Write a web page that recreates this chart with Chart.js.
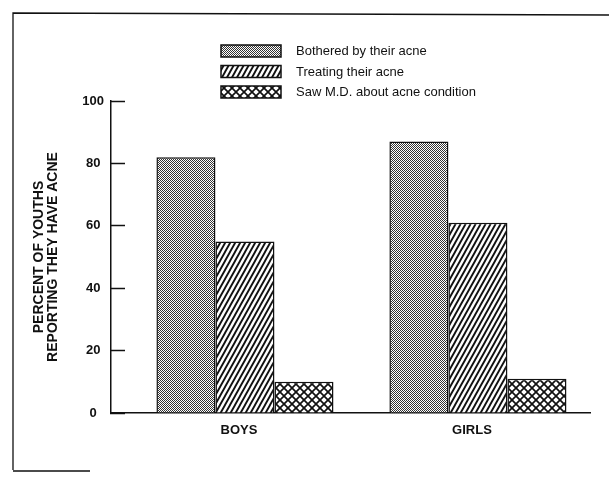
<!DOCTYPE html>
<html>
<head>
<meta charset="utf-8">
<script src="https://cdn.jsdelivr.net/npm/chart.js@4.4.1/dist/chart.umd.min.js"></script>
<style>
  html, body { margin: 0; padding: 0; background: #fff; }
</style>
</head>
<body>
<canvas id="chart" width="609" height="483"></canvas>
<script>
const categories = ['BOYS', 'GIRLS']
const seriesLabels = ['Bothered by their acne', 'Treating their acne', 'Saw M.D. about acne condition']
const bothered = [82, 87]
const treating = [55, 61]
const sawMD = [10, 11]
const yTicks = [0, 20, 40, 60, 80, 100]

const ink = '#111'
const family = '"Liberation Sans", Arial, Helvetica, sans-serif'
const canvas = document.getElementById('chart')
const ctx = canvas.getContext('2d')

// little tiles for the print-style fills
function makePattern(w, h, draw) {
  const c = document.createElement('canvas')
  c.width = w
  c.height = h
  const g = c.getContext('2d')
  g.fillStyle = '#fff'
  g.fillRect(0, 0, w, h)
  draw(g, w, h)
  return ctx.createPattern(c, 'repeat')
}

// fine checker, reads as a dotted grey
const stipple = makePattern(2, 2, (g) => {
  g.fillStyle = '#333'
  g.fillRect(0, 0, 1, 1)
  g.fillRect(1, 1, 1, 1)
})

const hatch = makePattern(5, 9, (g, w, h) => {
  g.strokeStyle = ink
  g.lineWidth = 1.9
  for (let k = -2; k <= 2; k++) {
    g.beginPath()
    g.moveTo(k * w - w, 2 * h)
    g.lineTo(k * w + 2 * w, -h)
    g.stroke()
  }
})

const crossHatch = makePattern(8, 8, (g, w, h) => {
  g.strokeStyle = ink
  g.lineWidth = 1.7
  for (let k = -2; k <= 2; k++) {
    g.beginPath()
    g.moveTo(k * w - w, -h)
    g.lineTo(k * w + 2 * w, 2 * h)
    g.moveTo(k * w - w, 2 * h)
    g.lineTo(k * w + 2 * w, -h)
    g.stroke()
  }
})

const xs = categories.map((c, i) => i + 1)
const toPoints = (vals) => vals.map((v, i) => ({ x: xs[i], y: v }))

// scanned frame: top edge, left edge, a stub at the bottom
const framePlugin = {
  id: 'frame',
  beforeDraw(chart) {
    const c = chart.ctx
    c.save()
    c.fillStyle = '#fff'
    c.fillRect(0, 0, chart.width, chart.height)
    c.strokeStyle = ink
    c.lineWidth = 1.3
    c.beginPath()
    c.moveTo(13, 470)
    c.lineTo(13, 13)
    c.lineTo(609, 15)
    c.moveTo(13, 471)
    c.lineTo(90, 471)
    c.stroke()
    c.restore()
  }
}

const legendPlugin = {
  id: 'boxLegend',
  afterDraw(chart) {
    const c = chart.ctx
    c.save()
    c.font = '13px ' + family
    c.textBaseline = 'middle'
    chart.data.datasets.forEach((ds, i) => {
      const y = 45 + i * 20.5
      c.fillStyle = ds.backgroundColor
      c.fillRect(221, y, 60, 12)
      c.strokeStyle = ink
      c.lineWidth = 1.5
      c.strokeRect(221, y, 60, 12)
      c.fillStyle = ink
      c.fillText(ds.label, 296, y + 6.5)
    })
    c.restore()
  }
}

new Chart(canvas, {
  type: 'bar',
  data: {
    datasets: [
      { label: seriesLabels[0], data: toPoints(bothered), backgroundColor: stipple },
      { label: seriesLabels[1], data: toPoints(treating), backgroundColor: hatch },
      { label: seriesLabels[2], data: toPoints(sawMD), backgroundColor: crossHatch },
    ],
  },
  options: {
    responsive: false,
    animation: false,
    layout: { padding: { top: 101, right: 19, bottom: 0, left: 0 } },
    datasets: {
      bar: { categoryPercentage: 0.76, barPercentage: 1, borderColor: ink, borderWidth: 1.5 },
    },
    plugins: {
      legend: { display: false },
      tooltip: { enabled: false },
    },
    scales: {
      x: {
        type: 'linear',
        offset: false,
        min: 0.425,
        max: 2.481,
        afterBuildTicks: (s) => { s.ticks = xs.map((v) => ({ value: v })) },
        afterFit: (s) => { s.height = 70 },
        grid: { display: false, drawTicks: false },
        border: { color: ink, width: 1.5 },
        ticks: {
          callback: (v) => categories[v - 1],
          padding: 10,
          labelOffset: -6,
          autoSkip: false,
          maxRotation: 0,
          color: ink,
          font: { family, size: 13, weight: 'bold' },
        },
      },
      y: {
        min: 0,
        max: 100,
        afterBuildTicks: (s) => { s.ticks = yTicks.map((v) => ({ value: v })) },
        afterFit: (s) => { s.width = 111 },
        grid: { drawOnChartArea: false, tickLength: -14, tickWidth: 1.5, tickColor: ink },
        border: { color: ink, width: 1.5 },
        ticks: {
          padding: 21,
          crossAlign: 'center',
          color: ink,
          font: { family, size: 13, weight: 'bold' },
        },
        title: {
          display: true,
          text: ['PERCENT OF YOUTHS', 'REPORTING THEY HAVE ACNE'],
          color: ink,
          font: { family, size: 14, weight: 'bold', lineHeight: 1.0 },
          padding: { top: 32, bottom: 0 },
        },
      },
    },
  },
  plugins: [framePlugin, legendPlugin],
})
</script>
</body>
</html>
